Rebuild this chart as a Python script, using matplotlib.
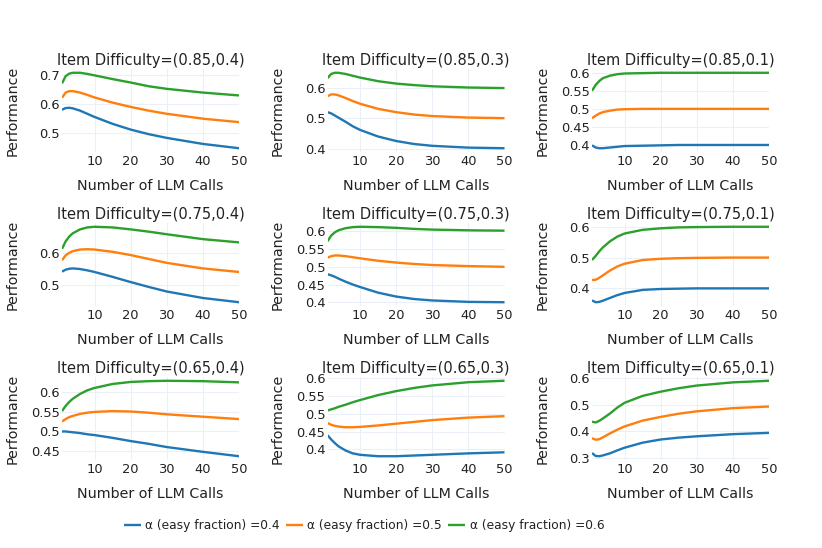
import matplotlib
matplotlib.use("Agg")
import matplotlib.pyplot as plt

# Data

calls = [1, 2, 3, 4, 6, 8, 10, 15, 20, 25, 30, 40, 50]

titles = [
    "Item Difficulty=(0.85,0.4)", "Item Difficulty=(0.85,0.3)", "Item Difficulty=(0.85,0.1)",
    "Item Difficulty=(0.75,0.4)", "Item Difficulty=(0.75,0.3)", "Item Difficulty=(0.75,0.1)",
    "Item Difficulty=(0.65,0.4)", "Item Difficulty=(0.65,0.3)", "Item Difficulty=(0.65,0.1)",
]

series_names = ["α (easy fraction) =0.4", "α (easy fraction) =0.5", "α (easy fraction) =0.6"]

# alpha = 0.4
perf_04 = [
    [0.580, 0.586, 0.587, 0.585, 0.577, 0.566, 0.555, 0.531, 0.511, 0.495, 0.482, 0.461, 0.446],
    [0.521, 0.517, 0.510, 0.503, 0.489, 0.474, 0.462, 0.440, 0.425, 0.415, 0.409, 0.403, 0.401],
    [0.399, 0.393, 0.391, 0.391, 0.393, 0.395, 0.397, 0.398, 0.399, 0.400, 0.400, 0.400, 0.400],
    [0.542, 0.548, 0.551, 0.552, 0.550, 0.546, 0.541, 0.526, 0.510, 0.495, 0.481, 0.461, 0.448],
    [0.479, 0.476, 0.472, 0.467, 0.458, 0.450, 0.443, 0.427, 0.416, 0.409, 0.405, 0.401, 0.400],
    [0.361, 0.355, 0.356, 0.360, 0.369, 0.378, 0.385, 0.395, 0.398, 0.399, 0.400, 0.400, 0.400],
    [0.500, 0.500, 0.499, 0.498, 0.496, 0.493, 0.491, 0.484, 0.476, 0.469, 0.461, 0.449, 0.438],
    [0.440, 0.428, 0.418, 0.409, 0.397, 0.389, 0.385, 0.381, 0.381, 0.383, 0.385, 0.389, 0.392],
    [0.318, 0.307, 0.306, 0.309, 0.317, 0.328, 0.338, 0.357, 0.369, 0.376, 0.381, 0.389, 0.394],
]

# alpha = 0.5
perf_05 = [
    [0.622, 0.640, 0.645, 0.645, 0.640, 0.632, 0.623, 0.605, 0.590, 0.577, 0.566, 0.549, 0.537],
    [0.574, 0.580, 0.580, 0.577, 0.568, 0.558, 0.549, 0.532, 0.521, 0.513, 0.508, 0.503, 0.501],
    [0.474, 0.481, 0.487, 0.491, 0.495, 0.498, 0.499, 0.500, 0.500, 0.500, 0.500, 0.500, 0.500],
    [0.577, 0.592, 0.600, 0.605, 0.610, 0.611, 0.610, 0.603, 0.593, 0.581, 0.569, 0.552, 0.541],
    [0.526, 0.530, 0.532, 0.532, 0.530, 0.527, 0.524, 0.517, 0.512, 0.508, 0.505, 0.502, 0.500],
    [0.427, 0.428, 0.434, 0.442, 0.458, 0.471, 0.480, 0.492, 0.496, 0.498, 0.499, 0.500, 0.500],
    [0.525, 0.531, 0.536, 0.539, 0.544, 0.547, 0.549, 0.551, 0.550, 0.547, 0.543, 0.537, 0.531],
    [0.474, 0.469, 0.466, 0.464, 0.462, 0.462, 0.463, 0.467, 0.472, 0.477, 0.482, 0.489, 0.493],
    [0.374, 0.368, 0.370, 0.377, 0.392, 0.406, 0.418, 0.440, 0.454, 0.466, 0.475, 0.487, 0.493],
]

# alpha = 0.6
perf_06 = [
    [0.672, 0.697, 0.706, 0.709, 0.709, 0.705, 0.700, 0.687, 0.675, 0.662, 0.653, 0.640, 0.630],
    [0.634, 0.648, 0.652, 0.652, 0.648, 0.642, 0.636, 0.624, 0.616, 0.611, 0.607, 0.603, 0.601],
    [0.550, 0.566, 0.577, 0.585, 0.592, 0.596, 0.598, 0.599, 0.600, 0.600, 0.600, 0.600, 0.600],
    [0.612, 0.635, 0.650, 0.660, 0.672, 0.678, 0.680, 0.678, 0.672, 0.665, 0.657, 0.642, 0.632],
    [0.572, 0.588, 0.597, 0.603, 0.609, 0.612, 0.613, 0.612, 0.610, 0.607, 0.605, 0.603, 0.602],
    [0.492, 0.505, 0.520, 0.533, 0.553, 0.568, 0.578, 0.590, 0.595, 0.598, 0.599, 0.600, 0.600],
    [0.551, 0.564, 0.574, 0.582, 0.594, 0.603, 0.609, 0.619, 0.624, 0.626, 0.627, 0.626, 0.623],
    [0.509, 0.512, 0.515, 0.519, 0.525, 0.532, 0.538, 0.552, 0.563, 0.572, 0.579, 0.588, 0.592],
    [0.436, 0.433, 0.439, 0.448, 0.467, 0.489, 0.507, 0.533, 0.549, 0.562, 0.572, 0.584, 0.590],
]

y_ticks = [
    [0.5, 0.6, 0.7], [0.4, 0.5, 0.6], [0.4, 0.45, 0.5, 0.55, 0.6],
    [0.5, 0.6], [0.4, 0.45, 0.5, 0.55, 0.6], [0.4, 0.5, 0.6],
    [0.45, 0.5, 0.55, 0.6], [0.4, 0.45, 0.5, 0.55, 0.6], [0.3, 0.4, 0.5, 0.6],
]
x_ticks = [10, 20, 30, 40, 50]

colors = ["#1f77b4", "#ff7f0e", "#2ca02c"]
grid_color = "#ebf0f8"

plt.rcParams["font.family"] = ["DejaVu Sans"]

fig = plt.figure(figsize=(8.22, 5.48), dpi=100)

# axes placement in pixels (left, top) -> figure fractions
W, H = 822, 548
col_left = [62, 327.5, 592]
row_top = [69, 223, 377]
ax_w, ax_h = 177, 83

handles = []
for i in range(9):
    r, c = divmod(i, 3)
    ax = fig.add_axes([col_left[c] / W, 1 - (row_top[r] + ax_h) / H, ax_w / W, ax_h / H])
    for k, data in enumerate([perf_04, perf_05, perf_06]):
        ln, = ax.plot(calls, data[i], color=colors[k], lw=1.7,
                      solid_capstyle="butt", label=series_names[k])
        if i == 0:
            handles.append(ln)

    ax.set_xlim(min(calls), max(calls))
    ax.margins(y=0.05)
    ax.set_xticks(x_ticks)
    ax.set_yticks(y_ticks[i])
    ax.set_yticklabels([f"{v:g}" for v in y_ticks[i]])
    ax.grid(True, color=grid_color, lw=0.8)
    ax.set_axisbelow(True)
    for s in ax.spines.values():
        s.set_visible(False)
    ax.tick_params(length=0, labelsize=9.4, labelcolor="#222222")
    ax.tick_params(axis="y", pad=1.5)
    ax.tick_params(axis="x", pad=2.5)

    ax.set_title(titles[i], fontsize=10.5, pad=3, color="#222222")
    ax.set_xlabel("Number of LLM Calls", fontsize=10.3, color="#222222")
    ax.xaxis.set_label_coords(0.5, -0.33)
    ax.set_ylabel("Performance", fontsize=10.3, color="#222222")
    ax.yaxis.set_label_coords(-0.24, 0.5)

fig.legend(handles=handles, labels=series_names, loc="center", ncol=3,
           bbox_to_anchor=(364 / W, 1 - 526 / H), frameon=False,
           fontsize=8.8, handlelength=1.4, handletextpad=0.35, columnspacing=0.5,
           labelcolor="#222222")

fig.savefig("out.png", dpi=100)
